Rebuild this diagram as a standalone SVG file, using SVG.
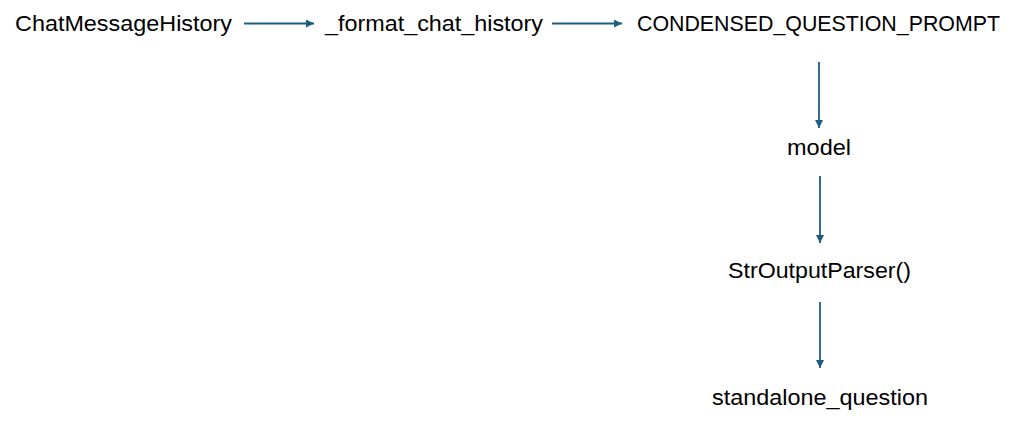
<svg xmlns="http://www.w3.org/2000/svg" width="1017" height="428" viewBox="0 0 1017 428">
<style>
text{font-family:"Liberation Sans",Arial,sans-serif;font-size:22px;fill:#000}
.c line{stroke:#1d5e80;stroke-width:1.8;fill:none}
</style>
<defs>
<marker id="ah" viewBox="0 0 10 10" refX="10" refY="5" markerWidth="8" markerHeight="8" markerUnits="userSpaceOnUse" orient="auto">
<path d="M0,0L10,5L0,10z" fill="#1d5e80"/>
</marker>
</defs>
<rect width="1017" height="428" fill="#fff"/>
<g id="n1"><text x="15" y="31" textLength="217" lengthAdjust="spacingAndGlyphs">ChatMessageHistory</text></g>
<g id="n2"><text x="325" y="31" textLength="218" lengthAdjust="spacingAndGlyphs">_format_chat_history</text></g>
<g id="n3"><text x="637" y="31" textLength="363" lengthAdjust="spacingAndGlyphs">CONDENSED_QUESTION_PROMPT</text></g>
<g id="n4"><text x="787" y="155" textLength="64" lengthAdjust="spacingAndGlyphs">model</text></g>
<g id="n5"><text x="728" y="278" textLength="183" lengthAdjust="spacingAndGlyphs">StrOutputParser()</text></g>
<g id="n6"><text x="712" y="405" textLength="216" lengthAdjust="spacingAndGlyphs">standalone_question</text></g>
<g class="c" id="connectors">
<line x1="244" y1="23.5" x2="314" y2="23.5" marker-end="url(#ah)"/>
<line x1="552" y1="23.5" x2="622" y2="23.5" marker-end="url(#ah)"/>
<line x1="819" y1="62" x2="819" y2="128" marker-end="url(#ah)"/>
<line x1="820" y1="176" x2="820" y2="243" marker-end="url(#ah)"/>
<line x1="820" y1="302" x2="820" y2="368" marker-end="url(#ah)"/>
</g>
</svg>
